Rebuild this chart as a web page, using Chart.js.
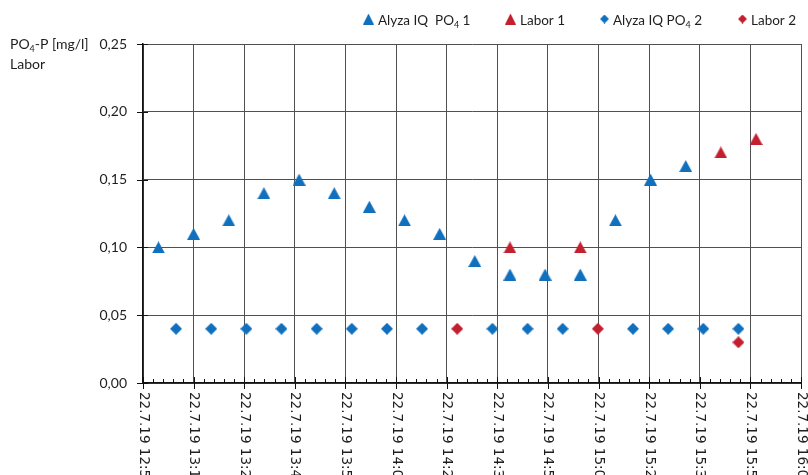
<!DOCTYPE html>
<html>
<head>
<meta charset="utf-8">
<script src="https://cdn.jsdelivr.net/npm/chart.js@4.4.1/dist/chart.umd.min.js"></script>
<style>
  html, body { margin: 0; padding: 0; background: #fff; }
</style>
</head>
<body>
<canvas id="chart" width="808" height="475"></canvas>
<script>
// PO4-P measurements, 22.7.19 (time of day, mg/l)
const datePrefix = '22.7.19 ';

const alyza1Times = ['13:02', '13:12', '13:22', '13:32', '13:42', '13:52', '14:02', '14:12',
                     '14:22', '14:32', '14:42', '14:52', '15:02', '15:12', '15:22', '15:32'];
const alyza1Values = [0.10, 0.11, 0.12, 0.14, 0.15, 0.14, 0.13, 0.12,
                      0.11, 0.09, 0.08, 0.08, 0.08, 0.12, 0.15, 0.16];

const labor1Times = ['14:42', '15:02', '15:42', '15:52'];
const labor1Values = [0.10, 0.10, 0.17, 0.18];

const alyza2Times = ['13:07', '13:17', '13:27', '13:37', '13:47', '13:57', '14:07', '14:17',
                     '14:37', '14:47', '14:57', '15:17', '15:27', '15:37', '15:47'];
const alyza2Values = [0.04, 0.04, 0.04, 0.04, 0.04, 0.04, 0.04, 0.04,
                      0.04, 0.04, 0.04, 0.04, 0.04, 0.04, 0.04];

const labor2Times = ['14:27', '15:07', '15:47'];
const labor2Values = [0.04, 0.04, 0.03];

// major ticks of the time axis (Excel step 0.01 day)
const xTickTimes = ['12:57:36', '13:12:00', '13:26:24', '13:40:48', '13:55:12', '14:09:36', '14:24:00',
                    '14:38:24', '14:52:48', '15:07:12', '15:21:36', '15:36:00', '15:50:24', '16:04:48'];
const yMin = 0, yMax = 0.25, yStep = 0.05;

const BLUE = '#1170bd';
const RED = '#c21f2f';
const FONT = 'Lato';
const TEXT = '#1e1e1e';

function toSec(t) {
    const p = t.split(':').map(Number);
    return p[0] * 3600 + p[1] * 60 + (p[2] || 0);
}

function pad2(n) {
    return String(n).padStart(2, '0');
}

function fmtTime(s) {
    return pad2(Math.floor(s / 3600)) + ':' + pad2(Math.floor((s % 3600) / 60));
}

function toPoints(times, values) {
    return times.map((t, i) => ({ x: toSec(t), y: values[i] }));
}

function makeMarker(shape, color, w, h) {
    const c = document.createElement('canvas');
    c.width = w;
    c.height = h;
    const g = c.getContext('2d');
    g.fillStyle = color;
    g.beginPath();
    if (shape === 'triangle') {
        g.moveTo(w / 2, 0);
        g.lineTo(w, h);
        g.lineTo(0, h);
    } else {
        g.moveTo(w / 2, 0);
        g.lineTo(w, h / 2);
        g.lineTo(w / 2, h);
        g.lineTo(0, h / 2);
    }
    g.closePath();
    g.fill();
    return c;
}

// text with "PO4" written as PO + subscript 4
function drawRich(ctx, text, x, y, size) {
    const parts = text.split(/(?<=PO)(4)/);
    parts.forEach((part, i) => {
        const sub = i % 2 === 1;
        ctx.font = (sub ? Math.round(size * 0.65) : size) + 'px ' + FONT;
        ctx.fillText(part, x, sub ? y + 3 : y);
        x += ctx.measureText(part).width;
    });
    return x;
}

const xTicks = xTickTimes.map(toSec);

const datasets = [
    { label: 'Alyza IQ  PO4 1', data: toPoints(alyza1Times, alyza1Values), color: BLUE, shape: 'triangle' },
    { label: 'Labor 1', data: toPoints(labor1Times, labor1Values), color: RED, shape: 'triangle' },
    { label: 'Alyza IQ PO4 2', data: toPoints(alyza2Times, alyza2Values), color: BLUE, shape: 'diamond' },
    { label: 'Labor 2', data: toPoints(labor2Times, labor2Values), color: RED, shape: 'diamond' }
].map(d => ({
    label: d.label,
    data: d.data,
    pointStyle: d.shape === 'triangle' ? makeMarker('triangle', d.color, 13, 12) : makeMarker('diamond', d.color, 12, 12),
    legendMarker: d.shape === 'triangle' ? makeMarker('triangle', d.color, 11, 11) : makeMarker('diamond', d.color, 9, 9),
    backgroundColor: d.color,
    borderColor: d.color,
    showLine: false
}));

const legendX = [363, 505, 600, 738];

const extras = {
    id: 'extras',
    afterDraw(chart) {
        const ctx = chart.ctx;
        const x = chart.scales.x;
        const y = chart.scales.y;
        const area = chart.chartArea;
        ctx.save();

        // axis ticks: major ticks cross the axis, minor ticks point inward
        ctx.strokeStyle = '#111';
        ctx.lineWidth = 1;
        ctx.beginPath();
        xTicks.forEach((v, i) => {
            const px = Math.round(x.getPixelForValue(v)) + 0.5;
            ctx.moveTo(px, area.bottom - 6);
            ctx.lineTo(px, area.bottom + 6);
            if (i < xTicks.length - 1) {
                const step = (xTicks[i + 1] - v) / 5;
                for (let k = 1; k < 5; k++) {
                    const mx = Math.round(x.getPixelForValue(v + k * step)) + 0.5;
                    ctx.moveTo(mx, area.bottom - 4);
                    ctx.lineTo(mx, area.bottom);
                }
            }
        });
        y.ticks.forEach(t => {
            const py = Math.round(y.getPixelForValue(t.value)) + 0.5;
            ctx.moveTo(area.left - 6, py);
            ctx.lineTo(area.left + 5, py);
        });
        ctx.stroke();

        // time labels, rotated clockwise and hanging below the axis
        ctx.fillStyle = TEXT;
        ctx.font = '13.5px "DejaVu Sans"';
        ctx.textAlign = 'left';
        ctx.textBaseline = 'middle';
        xTicks.forEach(v => {
            ctx.save();
            ctx.translate(x.getPixelForValue(v), area.bottom + 9);
            ctx.rotate(Math.PI / 2);
            ctx.fillText(datePrefix + fmtTime(v), 0, 0);
            ctx.restore();
        });

        // y axis title
        ctx.textBaseline = 'alphabetic';
        drawRich(ctx, 'PO4-P [mg/l]', 10, 49, 14);
        drawRich(ctx, 'Labor', 10, 69, 14);

        // legend
        chart.data.datasets.forEach((ds, i) => {
            const m = ds.legendMarker;
            ctx.drawImage(m, legendX[i], 19 - m.height / 2);
            drawRich(ctx, ds.label, legendX[i] + m.width + 4, 25, 13.5);
        });

        ctx.restore();
    }
};

new Chart(document.getElementById('chart'), {
    type: 'scatter',
    data: { datasets: datasets },
    options: {
        responsive: false,
        animation: false,
        layout: { padding: { top: 44, right: 7, left: 0, bottom: 0 } },
        plugins: {
            legend: { display: false },
            tooltip: { enabled: false }
        },
        elements: { point: { radius: 6, hoverRadius: 6 } },
        scales: {
            x: {
                type: 'linear',
                min: xTicks[0],
                max: xTicks[xTicks.length - 1],
                afterBuildTicks: scale => {
                    scale.ticks = xTicks.map(v => ({ value: v }));
                },
                afterFit: scale => {
                    scale.height = 92;
                },
                ticks: { display: false },
                grid: { color: '#505050', lineWidth: 1, drawTicks: false },
                border: { color: '#111', width: 1.5 }
            },
            y: {
                min: yMin,
                max: yMax,
                afterFit: scale => {
                    scale.width = 143;
                },
                ticks: {
                    stepSize: yStep,
                    padding: 16,
                    color: TEXT,
                    font: { family: FONT, size: 14 },
                    callback: v => v.toFixed(2).replace('.', ',')
                },
                grid: { color: '#505050', lineWidth: 1, drawTicks: false },
                border: { color: '#111', width: 1.5 }
            }
        }
    },
    plugins: [extras]
});
</script>
</body>
</html>
